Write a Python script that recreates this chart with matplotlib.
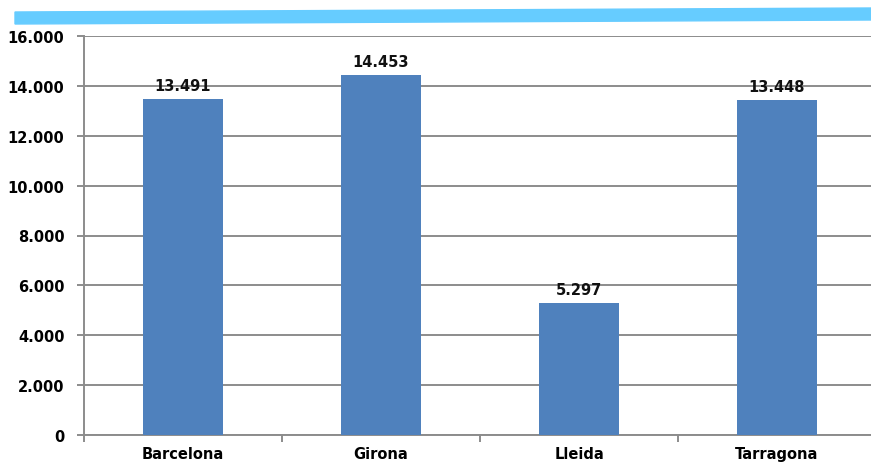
import numpy as np
import matplotlib.pyplot as plt
from matplotlib.patches import Polygon
from matplotlib.ticker import FuncFormatter

provincies = ['Barcelona', 'Girona', 'Lleida', 'Tarragona']
valors = [13491, 14453, 5297, 13448]
y_ticks = [0, 2000, 4000, 6000, 8000, 10000, 12000, 14000, 16000]

W, H = 871, 464
fig = plt.figure(figsize=(W / 100, H / 100), dpi=100)
ax = fig.add_axes([84 / W, 1 - 436 / H, 792 / W, 399 / H])


def fmt_miles(v, pos=None):
    return f'{int(v):,}'.replace(',', '.')


x = np.arange(len(provincies))
ax.bar(x, valors, width=0.4, color='#4F81BD', zorder=3)
for xi, v in zip(x, valors):
    ax.text(xi, v + 230, fmt_miles(v), ha='center', va='bottom',
            fontsize=10.5, fontweight='bold', color='#111111', zorder=4)

ax.set_xlim(-0.5, len(provincies) - 0.5)
ax.set_ylim(0, 16000)
ax.set_yticks(y_ticks)
ax.yaxis.set_major_formatter(FuncFormatter(fmt_miles))
ax.grid(axis='y', color='#8c8c8c', linewidth=1.4, zorder=0)

# category boundaries as x ticks, labels centred below bars
ax.set_xticks(np.arange(len(provincies)) - 0.5)
ax.set_xticklabels([])
ax.set_xticks(x, minor=True)
ax.set_xticklabels(provincies, minor=True, fontsize=10.5, fontweight='bold')
ax.tick_params(axis='x', which='minor', length=0, pad=8)
ax.tick_params(axis='x', which='major', length=5, width=1.4, color='#8c8c8c')
ax.tick_params(axis='y', length=5, width=1.4, color='#8c8c8c',
               labelsize=10.5, pad=9)
for lbl in ax.get_yticklabels():
    lbl.set_fontweight('bold')

for s in ['top', 'right']:
    ax.spines[s].set_visible(False)
for s in ['left', 'bottom']:
    ax.spines[s].set_color('#8c8c8c')
    ax.spines[s].set_linewidth(1.4)

# blue banner under the (cropped) title
banner = Polygon([(15 / W, 1 - 13 / H), (1.0, 1 - 9 / H),
                  (1.0, 1 - 21 / H), (15 / W, 1 - 25 / H)],
                 closed=True, transform=fig.transFigure,
                 color='#66CCFF', zorder=5)
fig.patches.append(banner)

fig.savefig('out.png', dpi=100)
